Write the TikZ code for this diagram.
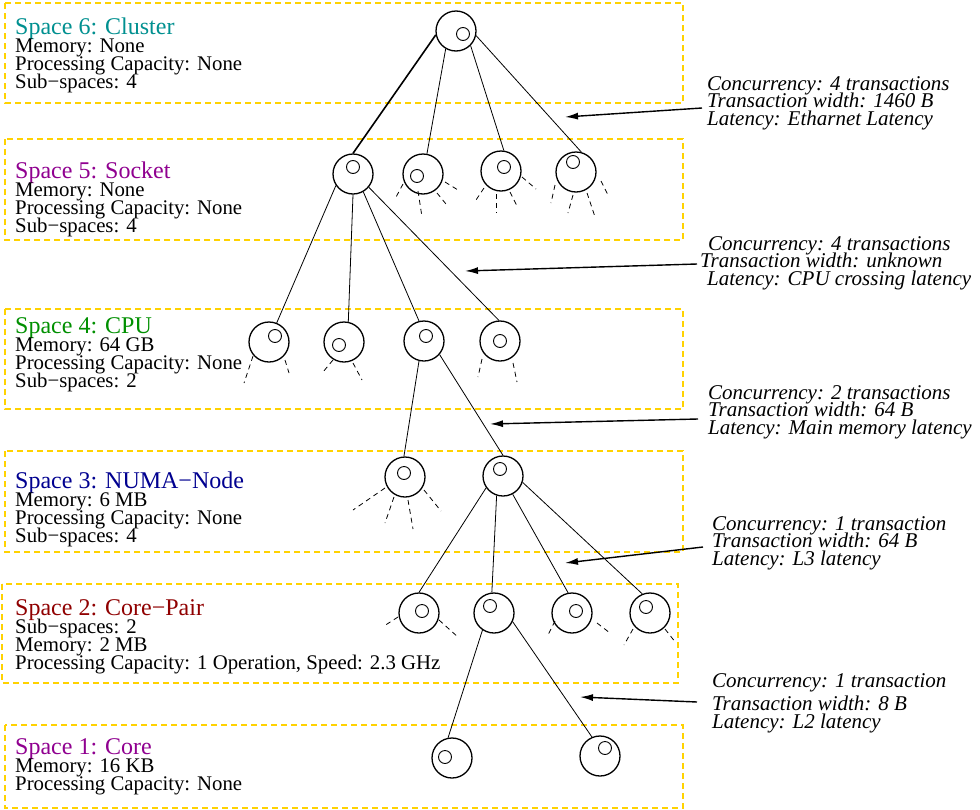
\documentclass[tikz,border=0pt]{standalone}
\usepackage{fontspec}
\setmainfont{Liberation Serif}
\usetikzlibrary{arrows.meta,calc}
\definecolor{boxgold}{RGB}{255,210,0}
\definecolor{cyanfour}{RGB}{0,144,144}
\definecolor{magfour}{RGB}{144,0,144}
\definecolor{greenfour}{RGB}{0,144,0}
\definecolor{bluefour}{RGB}{0,0,144}
\definecolor{redfour}{RGB}{144,0,0}
\newcommand{\ttl}[2]{{\fontsize{24}{18}\selectfont\color{#1}#2}}
\newcommand{\tightlines}{\lineskiplimit=-30pt\relax\lineskip=0pt\relax}
\newcommand{\boxfont}{\fontsize{20.8}{18}\selectfont\tightlines}
\newcommand{\labfont}{\fontsize{21}{17.5}\selectfont\itshape\tightlines}
\begin{document}
\begin{tikzpicture}[x=1pt,y=-1pt,
  spacebox/.style={draw=boxgold,line width=1.4pt,dash pattern=on 6pt off 4pt},
  boxtext/.style={anchor=base west,inner sep=0pt,align=left,font=\boxfont},
  labeltext/.style={anchor=base west,inner sep=0pt,align=left,font=\labfont},
  tnode/.style={circle,draw,line width=1.3pt,minimum size=40pt,inner sep=0pt},
  inode/.style={circle,draw,line width=0.9pt,minimum size=13pt,inner sep=0pt},
  edge/.style={line width=0.8pt},
  boldedge/.style={line width=1.6pt},
  stub/.style={line width=0.8pt,dash pattern=on 5pt off 4pt},
  arr/.style={line width=1.4pt,-{Latex[length=13pt,width=7pt]}}]
\useasboundingbox (0,0) rectangle (980,809);
\fill[white] (0,0) rectangle (980,809);

% space boxes
\draw[spacebox] (5,3) rectangle (683,103);
\draw[spacebox] (5,139) rectangle (683,240);
\draw[spacebox] (5,309) rectangle (683,409);
\draw[spacebox] (5,451) rectangle (683,552);
\draw[spacebox] (2,584) rectangle (678,683);
\draw[spacebox] (5,725) rectangle (683,808);

% box texts (anchor = baseline of last line)
\node[boxtext] (t6) at (15,88) {\ttl{cyanfour}{Space 6: Cluster}\\Memory: None\\Processing Capacity: None\\Sub−spaces: 4};
\node[boxtext] (t5) at (15,232) {\ttl{magfour}{Space 5: Socket}\\Memory: None\\Processing Capacity: None\\Sub−spaces: 4};
\node[boxtext] (t4) at (15,387) {\ttl{greenfour}{Space 4: CPU}\\Memory: 64 GB\\Processing Capacity: None\\Sub−spaces: 2};
\node[boxtext] (t3) at (15,542) {\ttl{bluefour}{Space 3: NUMA−Node}\\Memory: 6 MB\\Processing Capacity: None\\Sub−spaces: 4};
\node[boxtext] (t2) at (15,669) {\ttl{redfour}{Space 2: Core−Pair}\\Sub−spaces: 2\\Memory: 2 MB\\Processing Capacity: 1 Operation, Speed: 2.3 GHz};
\node[boxtext] (t1) at (15,790) {\ttl{magfour}{Space 1: Core}\\Memory: 16 KB\\Processing Capacity: None};

% tree nodes
\node[tnode] (n6) at (456,31) {};
\node[tnode] (n5a) at (353,174) {};
\node[tnode] (n5b) at (423,174) {};
\node[tnode] (n5c) at (501,171) {};
\node[tnode] (n5d) at (576,172) {};
\node[tnode] (n4a) at (269,342) {};
\node[tnode] (n4b) at (344,342) {};
\node[tnode] (n4c) at (424,341) {};
\node[tnode] (n4d) at (500,341) {};
\node[tnode] (n3a) at (405,477) {};
\node[tnode] (n3b) at (503,476) {};
\node[tnode] (n2a) at (419,613) {};
\node[tnode] (n2b) at (494,613) {};
\node[tnode] (n2c) at (572,613) {};
\node[tnode] (n2d) at (650,613) {};
\node[tnode] (n1a) at (452,758) {};
\node[tnode] (n1b) at (600,756) {};

% inner circles
\node[inode] (i6) at ($(n6)+(7,3)$) {};
\node[inode] (i5a) at ($(n5a)+(0,-7)$) {};
\node[inode] (i5b) at ($(n5b)+(-6,2)$) {};
\node[inode] (i5c) at ($(n5c)+(3,-4)$) {};
\node[inode] (i5d) at ($(n5d)+(-3,-10)$) {};
\node[inode] (i4a) at ($(n4a)+(6,-6)$) {};
\node[inode] (i4b) at ($(n4b)+(-5,3)$) {};
\node[inode] (i4c) at ($(n4c)+(2,-5)$) {};
\node[inode] (i4d) at ($(n4d)+(0,0)$) {};
\node[inode] (i3a) at ($(n3a)+(-1,-4)$) {};
\node[inode] (i3b) at ($(n3b)+(-3,-7)$) {};
\node[inode] (i2a) at ($(n2a)+(3,-2)$) {};
\node[inode] (i2b) at ($(n2b)+(-4,-7)$) {};
\node[inode] (i2c) at ($(n2c)+(4,-2)$) {};
\node[inode] (i2d) at ($(n2d)+(-4,-6)$) {};
\node[inode] (i1a) at ($(n1a)+(-7,-1)$) {};
\node[inode] (i1b) at ($(n1b)+(5,-8)$) {};

% edges
\draw[boldedge] (n6.191) -- (n5a.90);
\draw[edge] (n6.240) -- (n5b.79);
\draw[edge] (n6.315) -- (n5c.82);
\draw[edge] (n6.347) -- (n5d.75);

\draw[edge] (n5a.214) -- (n4a.68);
\draw[edge] (n5a.270) -- (n4b.78);
\draw[edge] (n5a.300) -- (n4c.104);
\draw[edge] (n5a.320) -- (n4d.93);

\draw[edge] (n4c.256) -- (n3a.93);
\draw[edge] (n4c.319) -- (n3b.90);

\draw[edge] (n3b.215) -- (n2a.90);
\draw[edge] (n3b.252) -- (n2b.96);
\draw[edge] (n3b.298) -- (n2c.101);
\draw[edge] (n3b.342) -- (n2d.112);

\draw[edge] (n2b.236) -- (n1a.101);
\draw[edge] (n2b.335) -- (n1b.113);

% dashed stubs
\foreach \n/\a/\b/\c/\d in {
  n5b/-20/10/-28/25, n5b/-5/17/-1/43, n5b/14/19/23/30, n5b/22/8/35/16,
  n5c/-17/17/-25/29, n5c/-5/23/-5/42, n5c/9/21/16/35, n5c/21/6/35/18,
  n5d/-21/13/-25/31, n5d/-3/23/-8/41, n5d/11/21/19/45, n5d/25/9/33/25,
  n4a/-16/14/-25/41, n4a/16/18/20/31,
  n4b/-11/18/-21/30, n4b/9/21/18/38,
  n4d/-18/18/-22/36, n4d/13/22/17/41,
  n3a/-20/11/-52/33, n3a/-11/20/-20/46, n3a/3/23/8/52, n3a/19/13/36/34,
  n2a/-21/4/-35/13, n2a/20/7/40/25,
  n2c/-17/8/-25/24, n2c/25/10/38/20,
  n2d/-17/16/-26/32, n2d/15/16/26/30}
  \draw[stub] ($(\n)+(\a,\b)$) -- ($(\n)+(\c,\d)$);

% labels (anchor = baseline of last line)
\node[labeltext] (c1) at (707,125) {Concurrency: 4 transactions\\Transaction width: 1460 B\\Latency: Etharnet Latency};
\node[labeltext] (c2) at (708,285) {Concurrency: 4 transactions\\\hspace*{-8pt}Transaction width: unknown\\\hspace*{-1pt}Latency: CPU crossing latency};
\node[labeltext] (c3) at (708,434) {Concurrency: 2 transactions\\Transaction width: 64 B\\Latency: Main memory latency};
\node[labeltext] (c4) at (712,565) {Concurrency: 1 transaction\\Transaction width: 64 B\\Latency: L3 latency};
\node[labeltext] (c5) at (712,728) {Concurrency: 1 transaction\\[6pt]Transaction width: 8 B\\Latency: L2 latency};

% arrows
\coordinate (a1s) at (702,108); \coordinate (a1e) at (565,117);
\coordinate (a2s) at (697,264); \coordinate (a2e) at (465,271);
\coordinate (a3s) at (698,419); \coordinate (a3e) at (490,424);
\coordinate (a4s) at (703,547); \coordinate (a4e) at (565,563);
\coordinate (a5s) at (697,702); \coordinate (a5e) at (580,697);
\draw[arr] (a1s) -- (a1e);
\draw[arr] (a2s) -- (a2e);
\draw[arr] (a3s) -- (a3e);
\draw[arr] (a4s) -- (a4e);
\draw[arr] (a5s) -- (a5e);
\end{tikzpicture}
\end{document}
